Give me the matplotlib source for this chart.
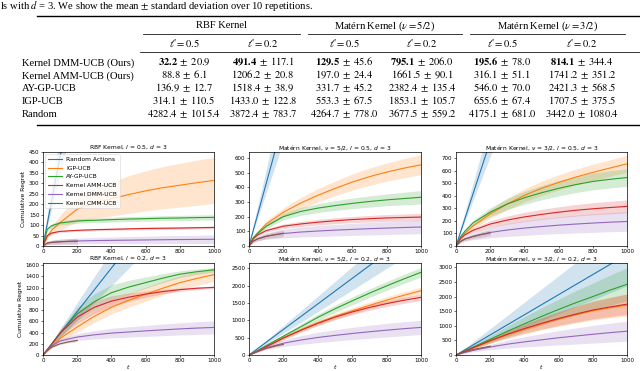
import matplotlib
matplotlib.use("Agg")
import matplotlib.pyplot as plt
from matplotlib.lines import Line2D
from matplotlib.ticker import MultipleLocator

# ---------------- table data ----------------
methods = ["Kernel DMM-UCB (Ours)", "Kernel AMM-UCB (Ours)", "AY-GP-UCB", "IGP-UCB", "Random"]
kernels = ["RBF Kernel", r"Matérn Kernel ($\nu = 5/2$)", r"Matérn Kernel ($\nu = 3/2$)"]
lengths = [r"$\ell = 0.5$", r"$\ell = 0.2$"] * 3
tbl_mean = [
    [32.2, 491.4, 129.5, 795.1, 195.6, 814.1],
    [88.8, 1206.2, 197.0, 1661.5, 316.1, 1741.2],
    [136.9, 1518.4, 331.7, 2382.4, 546.0, 2421.3],
    [314.1, 1433.0, 553.3, 1853.1, 655.6, 1707.5],
    [4282.4, 3872.4, 4264.7, 3677.5, 4175.1, 3442.0],
]
tbl_sd = [
    [20.9, 117.1, 45.6, 206.0, 78.0, 344.4],
    [6.1, 20.8, 24.4, 90.1, 51.1, 351.2],
    [12.7, 38.9, 45.2, 135.4, 70.0, 568.5],
    [110.5, 122.8, 67.5, 105.7, 67.4, 375.5],
    [1015.4, 783.7, 778.0, 559.2, 681.0, 1080.4],
]

# ---------------- curve data ----------------
T = [0, 25, 50, 100, 200, 300, 400, 500, 600, 700, 800, 900, 1000]
T_CMM = [0, 25, 50, 100, 150, 200]

# RBF, l=0.5
rand_A = [0, 107, 214, 428, 856, 1285, 1713, 2141, 2569, 2998, 3426, 3854, 4282]
rand_A_sd = [0, 25, 51, 102, 203, 305, 406, 508, 609, 711, 812, 914, 1015]
igp_A = [0, 45, 75, 112, 176, 205, 226, 246, 264, 279, 291, 303, 314]
igp_A_sd = [0, 10, 20, 35, 60, 72, 82, 90, 96, 101, 105, 108, 110.5]
ay_A = [0, 80, 97, 110, 120, 123, 126, 129, 131, 133, 134, 136, 137]
ay_A_sd = [0, 8, 10, 10, 11, 11, 12, 12, 12, 12, 12.5, 12.5, 12.7]
amm_A = [0, 50, 62, 70, 75, 78, 80, 82, 84, 85, 86, 87.5, 88.8]
amm_A_sd = [0, 5, 5, 5, 5, 5.5, 5.5, 5.5, 6, 6, 6, 6, 6.1]
dmm_A = [0, 15, 18, 21, 24, 26, 27, 28, 29, 30, 31, 31.5, 32.2]
dmm_A_sd = [0, 8, 10, 12, 14, 15, 16, 17, 18, 19, 19.5, 20, 20.9]
cmm_A = [0, 14, 17, 20, 22, 23]
cmm_A_sd = [0, 8, 10, 12, 13, 14]

# Matern 5/2, l=0.5
rand_B = [0, 107, 213, 426, 853, 1279, 1706, 2132, 2559, 2985, 3412, 3838, 4265]
rand_B_sd = [0, 19, 39, 78, 156, 233, 311, 389, 467, 545, 622, 700, 778]
igp_B = [0, 55, 90, 150, 230, 292, 345, 392, 435, 472, 503, 530, 553]
igp_B_sd = [0, 8, 12, 20, 30, 38, 45, 50, 55, 59, 62, 65, 67.5]
ay_B = [0, 55, 85, 135, 200, 235, 258, 275, 290, 303, 314, 323, 332]
ay_B_sd = [0, 6, 10, 15, 22, 27, 30, 33, 36, 38, 40, 43, 45.2]
amm_B = [0, 50, 75, 105, 135, 150, 162, 172, 180, 186, 191, 194, 197]
amm_B_sd = [0, 5, 8, 11, 15, 17, 19, 20, 21, 22, 23, 24, 24.4]
dmm_B = [0, 35, 50, 68, 85, 95, 102, 108, 113, 118, 122, 126, 129.5]
dmm_B_sd = [0, 10, 15, 22, 30, 34, 37, 39, 41, 43, 44, 45, 45.6]
cmm_B = [0, 33, 48, 65, 77, 87]
cmm_B_sd = [0, 8, 12, 16, 20, 22]

# Matern 3/2, l=0.5
rand_C = [0, 104, 209, 418, 835, 1253, 1670, 2088, 2505, 2923, 3340, 3758, 4175]
rand_C_sd = [0, 17, 34, 68, 136, 204, 272, 341, 409, 477, 545, 613, 681]
igp_C = [0, 60, 100, 160, 256, 335, 404, 460, 507, 550, 587, 622, 655.6]
igp_C_sd = [0, 8, 14, 22, 35, 45, 52, 57, 61, 63, 65, 66, 67.4]
ay_C = [0, 70, 115, 185, 270, 335, 385, 425, 460, 490, 515, 532, 546]
ay_C_sd = [0, 10, 15, 22, 35, 45, 52, 57, 61, 64, 67, 69, 70]
amm_C = [0, 55, 88, 125, 175, 207, 232, 252, 270, 285, 297, 307, 316]
amm_C_sd = [0, 8, 12, 18, 26, 32, 37, 40, 43, 46, 48, 50, 51]
dmm_C = [0, 35, 55, 78, 108, 128, 143, 155, 166, 175, 183, 190, 195.6]
dmm_C_sd = [0, 10, 17, 28, 42, 52, 58, 63, 67, 71, 74, 76, 78]
cmm_C = [0, 35, 55, 75, 92, 105]
cmm_C_sd = [0, 8, 12, 16, 20, 22]

# RBF, l=0.2
rand_D = [0, 97, 194, 387, 774, 1162, 1549, 1936, 2323, 2711, 3098, 3485, 3872]
rand_D_sd = [0, 20, 39, 78, 157, 235, 313, 392, 470, 549, 627, 705, 784]
igp_D = [0, 75, 150, 295, 500, 690, 850, 975, 1085, 1190, 1290, 1365, 1433]
igp_D_sd = [0, 15, 30, 55, 90, 110, 120, 125, 125, 124, 123, 123, 122.8]
ay_D = [0, 95, 190, 390, 730, 950, 1110, 1210, 1290, 1370, 1440, 1485, 1518]
ay_D_sd = [0, 10, 25, 60, 120, 140, 140, 120, 100, 80, 60, 48, 38.9]
amm_D = [0, 95, 190, 390, 675, 850, 960, 1030, 1085, 1130, 1165, 1190, 1206]
amm_D_sd = [0, 10, 25, 60, 110, 110, 95, 75, 55, 40, 30, 25, 20.8]
dmm_D = [0, 85, 160, 250, 320, 360, 390, 410, 430, 448, 465, 480, 491.4]
dmm_D_sd = [0, 15, 25, 40, 60, 75, 85, 92, 98, 104, 108, 113, 117.1]
cmm_D = [0, 80, 140, 200, 235, 260]
cmm_D_sd = [0, 8, 12, 15, 18, 20]

# Matern 5/2, l=0.2
rand_E = [0, 92, 184, 368, 736, 1103, 1471, 1839, 2207, 2574, 2942, 3310, 3678]
rand_E_sd = [0, 14, 28, 56, 112, 168, 224, 280, 336, 391, 447, 503, 559]
igp_E = [0, 55, 115, 240, 490, 720, 930, 1110, 1270, 1430, 1580, 1720, 1853]
igp_E_sd = [0, 8, 15, 28, 48, 62, 72, 80, 87, 93, 98, 102, 105.7]
ay_E = [0, 60, 130, 270, 540, 810, 1085, 1330, 1560, 1780, 1990, 2190, 2382]
ay_E_sd = [0, 10, 20, 35, 60, 80, 95, 105, 115, 122, 128, 132, 135.4]
amm_E = [0, 55, 115, 240, 490, 710, 910, 1090, 1240, 1370, 1480, 1575, 1661.5]
amm_E_sd = [0, 8, 15, 25, 42, 55, 65, 72, 78, 82, 86, 88, 90.1]
dmm_E = [0, 50, 105, 210, 340, 430, 505, 565, 620, 670, 715, 758, 795]
dmm_E_sd = [0, 15, 30, 55, 95, 125, 148, 165, 178, 188, 196, 202, 206]
cmm_E = [0, 50, 100, 190, 255, 310]
cmm_E_sd = [0, 8, 12, 18, 22, 25]

# Matern 3/2, l=0.2
rand_F = [0, 86, 172, 344, 688, 1033, 1377, 1721, 2065, 2410, 2754, 3098, 3442]
rand_F_sd = [0, 27, 54, 108, 216, 324, 432, 540, 648, 756, 864, 972, 1080]
igp_F = [0, 60, 125, 245, 480, 690, 880, 1060, 1225, 1375, 1510, 1615, 1707.5]
igp_F_sd = [0, 10, 20, 40, 80, 120, 160, 200, 240, 280, 315, 345, 375.5]
ay_F = [0, 65, 135, 270, 540, 810, 1070, 1320, 1560, 1790, 2000, 2220, 2421]
ay_F_sd = [0, 15, 30, 60, 120, 180, 240, 300, 350, 410, 460, 515, 568]
amm_F = [0, 60, 125, 250, 490, 710, 905, 1085, 1250, 1400, 1540, 1645, 1741.2]
amm_F_sd = [0, 10, 20, 40, 80, 120, 160, 200, 240, 275, 305, 330, 351.2]
dmm_F = [0, 40, 80, 155, 275, 370, 450, 520, 590, 650, 710, 765, 814.1]
dmm_F_sd = [0, 10, 20, 45, 90, 135, 175, 210, 245, 275, 300, 325, 344.4]
cmm_F = [0, 55, 110, 185, 245, 300]
cmm_F_sd = [0, 10, 15, 22, 28, 32]

series_names = ["Random Actions", "IGP-UCB", "AY-GP-UCB", "Kernel AMM-UCB", "Kernel DMM-UCB", "Kernel CMM-UCB"]
titles = [
    r"RBF Kernel, $l$ = 0.5, $d$ = 3",
    r"Matérn Kernel, $\nu$ = 5/2, $l$ = 0.5, $d$ = 3",
    r"Matérn Kernel, $\nu$ = 3/2, $l$ = 0.5, $d$ = 3",
    r"RBF Kernel, $l$ = 0.2, $d$ = 3",
    r"Matérn Kernel, $\nu$ = 5/2, $l$ = 0.2, $d$ = 3",
    r"Matérn Kernel, $\nu$ = 3/2, $l$ = 0.2, $d$ = 3",
]

# ---------------- figure ----------------
W, H = 640, 371
fig = plt.figure(figsize=(6.4, 3.71), dpi=100)


def fx(x):
    return x / W


def fy(y):
    return 1 - y / H


SERIF = "Liberation Serif"
TFS = 7.6


def ttext(x, yc, s, ha="center", weight="normal"):
    fig.text(fx(x), fy(yc + 3.4), s, ha=ha, va="baseline", fontsize=TFS,
             family=SERIF, math_fontfamily="stix", weight=weight)


def rule(y, x0, x1, lw):
    fig.add_artist(Line2D([fx(x0), fx(x1)], [fy(y), fy(y)], transform=fig.transFigure,
                          color="black", lw=lw))


# caption line
ttext(0, 6, r"ls with $d$ = 3. We show the mean $\pm$ standard deviation over 10 repetitions.", ha="left")

col_x = [184, 263, 344, 422, 502, 582]
head_x = [222, 385, 548]
cmid = [(143, 300), (308, 462), (470, 625)]
row_y = [62, 75, 88, 101, 114]

rule(16, 37, 640, 1.0)
for k, hx in enumerate(head_x):
    ttext(hx, 25, kernels[k])
    rule(34, cmid[k][0], cmid[k][1], 0.55)
for j, cx in enumerate(col_x):
    ttext(cx, 44, lengths[j])
rule(52, 140, 640, 0.55)
for i, m in enumerate(methods):
    ttext(22, row_y[i], m, ha="left")
    for j, cx in enumerate(col_x):
        mean = tbl_mean[i][j]
        sd = tbl_sd[i][j]
        if i == 0:
            s = r"$\mathbf{%.1f}\;\pm\;%.1f$" % (mean, sd)
        else:
            s = r"$%.1f\;\pm\;%.1f$" % (mean, sd)
        ttext(cx, row_y[i], s)
rule(125, 37, 640, 1.0)

# ---------------- plots ----------------
panels = [
    (rand_A, rand_A_sd, igp_A, igp_A_sd, ay_A, ay_A_sd, amm_A, amm_A_sd, dmm_A, dmm_A_sd, cmm_A, cmm_A_sd),
    (rand_B, rand_B_sd, igp_B, igp_B_sd, ay_B, ay_B_sd, amm_B, amm_B_sd, dmm_B, dmm_B_sd, cmm_B, cmm_B_sd),
    (rand_C, rand_C_sd, igp_C, igp_C_sd, ay_C, ay_C_sd, amm_C, amm_C_sd, dmm_C, dmm_C_sd, cmm_C, cmm_C_sd),
    (rand_D, rand_D_sd, igp_D, igp_D_sd, ay_D, ay_D_sd, amm_D, amm_D_sd, dmm_D, dmm_D_sd, cmm_D, cmm_D_sd),
    (rand_E, rand_E_sd, igp_E, igp_E_sd, ay_E, ay_E_sd, amm_E, amm_E_sd, dmm_E, dmm_E_sd, cmm_E, cmm_E_sd),
    (rand_F, rand_F_sd, igp_F, igp_F_sd, ay_F, ay_F_sd, amm_F, amm_F_sd, dmm_F, dmm_F_sd, cmm_F, cmm_F_sd),
]
ylims = [450, 640, 750, 1640, 2650, 3150]
ysteps = [50, 100, 100, 200, 500, 500]
cols_px = [(43, 214), (249, 421), (456, 627)]
rows_px = [(152, 246), (263, 355)]
colors = ["C0", "C1", "C2", "C3", "C4", "C5"]
SFS = 4.3

for p, data in enumerate(panels):
    r, c = divmod(p, 3)
    x0, x1 = cols_px[c]
    y0, y1 = rows_px[r]
    ax = fig.add_axes([fx(x0), fy(y1), (x1 - x0) / W, (y1 - y0) / H])
    for s in range(6):
        mean = data[2 * s]
        sd = data[2 * s + 1]
        tt = T_CMM if s == 5 else T
        lo = [m - d for m, d in zip(mean, sd)]
        hi = [m + d for m, d in zip(mean, sd)]
        ax.plot(tt, mean, color=colors[s], lw=0.8, label=series_names[s])
        ax.fill_between(tt, lo, hi, color=colors[s], alpha=0.2, lw=0)
    ax.set_xlim(0, 1000)
    ax.set_ylim(0, ylims[p])
    ax.xaxis.set_major_locator(MultipleLocator(200))
    ax.yaxis.set_major_locator(MultipleLocator(ysteps[p]))
    ax.tick_params(labelsize=4.0, length=1.5, width=0.4, pad=1)
    for sp in ax.spines.values():
        sp.set_linewidth(0.5)
    ax.set_title(titles[p], fontsize=SFS, pad=2)
    if c == 0:
        ax.set_ylabel("Cumulative Regret", fontsize=SFS, labelpad=2)
    if r == 1:
        ax.set_xlabel("$t$", fontsize=SFS, labelpad=0)
    if p == 0:
        leg = ax.legend(loc="upper left", fontsize=SFS, labelspacing=0.6,
                        borderaxespad=0.4, handlelength=2.3)
        leg.get_frame().set_linewidth(0.4)

fig.savefig("out.png", dpi=100)
